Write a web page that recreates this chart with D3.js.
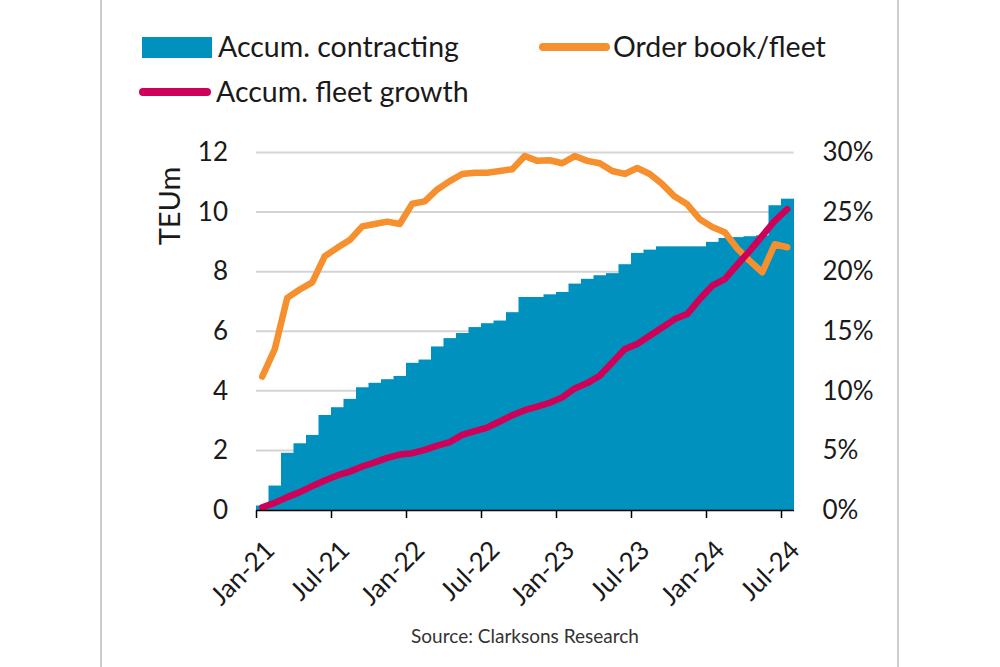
<!DOCTYPE html>
<html>
<head>
<meta charset="utf-8">
<script src="https://cdn.jsdelivr.net/npm/d3@7"></script>
<style>
  html, body { margin: 0; padding: 0; background: #fff; }
  svg { display: block; }
  text { font-family: Lato, "Open Sans", sans-serif; }
</style>
</head>
<body>
<svg id="chart" width="1000" height="667"></svg>
<script>
const months = ["Jan-21","Feb-21","Mar-21","Apr-21","May-21","Jun-21","Jul-21","Aug-21","Sep-21","Oct-21","Nov-21","Dec-21",
  "Jan-22","Feb-22","Mar-22","Apr-22","May-22","Jun-22","Jul-22","Aug-22","Sep-22","Oct-22","Nov-22","Dec-22",
  "Jan-23","Feb-23","Mar-23","Apr-23","May-23","Jun-23","Jul-23","Aug-23","Sep-23","Oct-23","Nov-23","Dec-23",
  "Jan-24","Feb-24","Mar-24","Apr-24","May-24","Jun-24","Jul-24"];

// Accum. contracting, TEUm (left axis)
const accumContracting = [0.15,0.82,1.92,2.24,2.52,3.19,3.45,3.73,4.12,4.27,4.39,4.50,
  4.94,5.05,5.49,5.77,5.94,6.14,6.27,6.36,6.64,7.15,7.15,7.24,
  7.32,7.60,7.76,7.88,7.95,8.25,8.63,8.74,8.85,8.85,8.85,8.85,
  9.00,9.13,9.16,9.19,9.22,10.23,10.45];

// Order book / fleet, % (right axis)
const orderbookFleet = [11.2,13.5,17.8,18.5,19.1,21.3,22.0,22.65,23.8,24.0,24.2,24.0,
  25.7,25.9,26.9,27.6,28.2,28.3,28.3,28.45,28.6,29.7,29.3,29.35,
  29.1,29.7,29.3,29.1,28.45,28.2,28.7,28.2,27.35,26.3,25.65,24.4,
  23.75,23.3,21.95,20.9,19.95,22.3,22.05];

// Accum. fleet growth, % (right axis)
const fleetGrowth = [0.22,0.6,1.08,1.5,2.0,2.48,2.9,3.22,3.65,4.0,4.37,4.65,
  4.77,5.05,5.4,5.7,6.3,6.62,6.92,7.43,7.95,8.38,8.67,9.0,
  9.45,10.2,10.65,11.27,12.38,13.5,13.93,14.62,15.32,16.02,16.44,17.7,
  18.82,19.38,20.58,21.75,23.0,24.27,25.25];

const leftTicks = [0,2,4,6,8,10,12];
const rightTicks = [0,5,10,15,20,25,30];
const xTickIdx = [0,6,12,18,24,30,36,42];

const legendItems = ["Accum. contracting","Order book/fleet","Accum. fleet growth"];
const yTitle = "TEUm";
const sourceText = "Source: Clarksons Research";

const C_BAR = "#0091bf", C_ORANGE = "#f68f2e", C_PINK = "#cf0058", C_TEXT = "#1a1a1a";

const svg = d3.select("#chart");

// frame lines
svg.append("line").attr("x1",101).attr("x2",101).attr("y1",0).attr("y2",667).attr("stroke","#bdbdbd").attr("stroke-width",1.5);
svg.append("line").attr("x1",898).attr("x2",898).attr("y1",0).attr("y2",667).attr("stroke","#bdbdbd").attr("stroke-width",1.5);

const plotL = 256, plotR = 793.5, plotT = 152.5, plotB = 510;
const x = d3.scaleLinear().domain([0, months.length]).range([plotL, plotR]);
const yL = d3.scaleLinear().domain([0,12]).range([plotB, plotT]);
const yR = d3.scaleLinear().domain([0,30]).range([plotB, plotT]);

// gridlines
svg.append("g").selectAll("line").data(leftTicks.filter(d=>d>0)).join("line")
  .attr("x1", plotL).attr("x2", plotR)
  .attr("y1", d=>yL(d)).attr("y2", d=>yL(d))
  .attr("stroke","#d4d4d4").attr("stroke-width",2);

// bars (step area)
svg.append("g").selectAll("rect").data(accumContracting).join("rect")
  .attr("x",(d,i)=>x(i)).attr("width",(d,i)=>x(i+1)-x(i)+0.5)
  .attr("y", d=>yL(d)).attr("height", d=>yL(0)-yL(d))
  .attr("fill", C_BAR);

// lines
const line = d3.line().x((d,i)=>x(i+0.5)).y(d=>yR(d)).curve(d3.curveLinear);
svg.append("path").datum(orderbookFleet).attr("d", line)
  .attr("fill","none").attr("stroke",C_ORANGE).attr("stroke-width",6.5)
  .attr("stroke-linejoin","round").attr("stroke-linecap","round");
svg.append("path").datum(fleetGrowth).attr("d", line)
  .attr("fill","none").attr("stroke",C_PINK).attr("stroke-width",6.5)
  .attr("stroke-linejoin","round").attr("stroke-linecap","round");

// x axis
const xAxis = d3.axisBottom(x).tickValues(xTickIdx).tickFormat(i=>months[i]).tickSize(8).tickSizeOuter(0);
const gx = svg.append("g").attr("transform",`translate(0,${plotB})`).call(xAxis);
gx.select(".domain").attr("stroke","#000").attr("stroke-width",1.5);
gx.selectAll(".tick line").attr("stroke","#000").attr("stroke-width",1.5);
gx.selectAll(".tick text")
  .attr("font-size",26).attr("fill",C_TEXT)
  .attr("text-anchor","end")
  .attr("transform","translate(6,28) rotate(-45)")
  .attr("x",0).attr("y",0).attr("dy","0.75em");

// left axis
const gl = svg.append("g").attr("transform",`translate(${plotL},0)`)
  .call(d3.axisLeft(yL).tickValues(leftTicks).tickSize(0).tickPadding(28));
gl.select(".domain").remove();
gl.selectAll(".tick text").attr("font-size",26).attr("fill",C_TEXT);

// right axis
const gr = svg.append("g").attr("transform",`translate(${plotR},0)`)
  .call(d3.axisRight(yR).tickValues(rightTicks).tickSize(0).tickPadding(29).tickFormat(d=>d+"%"));
gr.select(".domain").remove();
gr.selectAll(".tick text").attr("font-size",26).attr("fill",C_TEXT);

// y title
svg.append("text").attr("transform","translate(180,206) rotate(-90)")
  .attr("text-anchor","middle").attr("font-size",29).attr("fill",C_TEXT).text(yTitle);

// legend
const lg = svg.append("g");
lg.append("rect").attr("x",142).attr("y",37).attr("width",70).attr("height",21).attr("fill",C_BAR);
lg.append("text").attr("x",218).attr("y",57).attr("font-size",28.5).attr("fill",C_TEXT).text(legendItems[0]);
lg.append("line").attr("x1",543).attr("x2",606).attr("y1",47).attr("y2",47)
  .attr("stroke",C_ORANGE).attr("stroke-width",8).attr("stroke-linecap","round");
lg.append("text").attr("x",613).attr("y",57).attr("font-size",28.5).attr("fill",C_TEXT).text(legendItems[1]);
lg.append("line").attr("x1",143).attr("x2",207).attr("y1",92).attr("y2",92)
  .attr("stroke",C_PINK).attr("stroke-width",8).attr("stroke-linecap","round");
lg.append("text").attr("x",216).attr("y",102).attr("font-size",28.5).attr("fill",C_TEXT).text(legendItems[2]);

// source
svg.append("text").attr("x",525).attr("y",643).attr("text-anchor","middle")
  .attr("font-size",19).attr("fill","#333").text(sourceText);
</script>
</body>
</html>
